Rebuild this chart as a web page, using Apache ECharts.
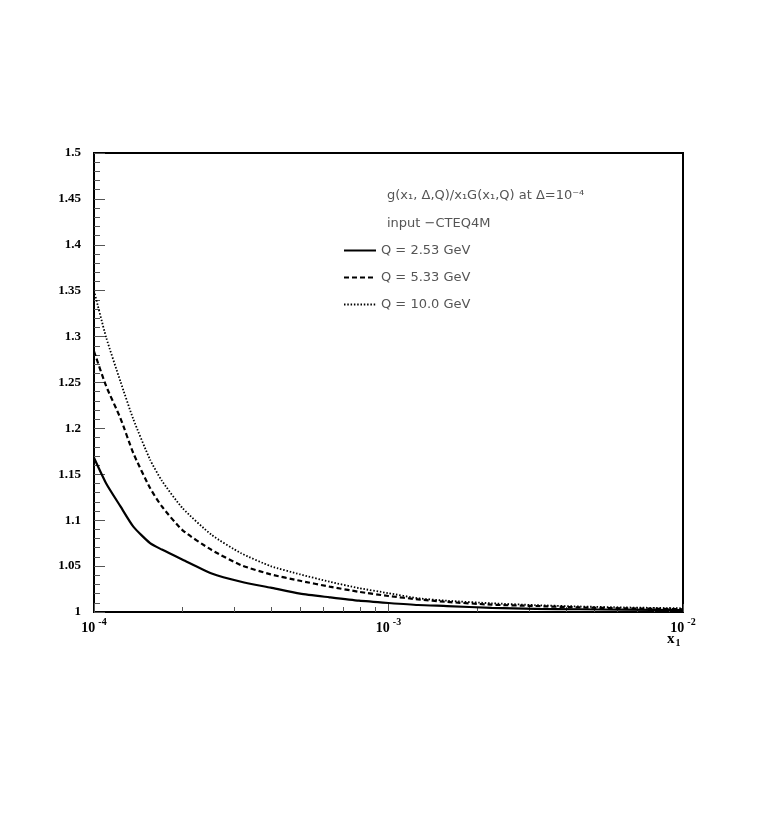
<!DOCTYPE html>
<html>
<head>
<meta charset="utf-8">
<style>html,body{margin:0;padding:0;background:#fff;}#c{width:763px;height:817px;}</style>
<script src="https://cdn.jsdelivr.net/npm/echarts@6/dist/echarts.min.js"></script>
</head>
<body>
<div id="c"></div>
<script>
// x1 values (log axis)
var xValues = [1.00e-4, 1.10e-4, 1.23e-4, 1.36e-4, 1.55e-4, 1.70e-4, 2.00e-4, 2.51e-4, 3.16e-4, 3.98e-4, 5.01e-4,
               6.31e-4, 7.94e-4, 1.00e-3, 1.26e-3, 1.58e-3, 2.24e-3, 3.16e-3, 4.47e-3, 6.31e-3, 1.00e-2];
// Q = 2.53 GeV
var q253 = [1.168, 1.140, 1.115, 1.093, 1.075, 1.068, 1.057, 1.042, 1.033, 1.0265, 1.020,
            1.016, 1.0123, 1.0098, 1.0076, 1.0065, 1.0045, 1.0035, 1.003, 1.0025, 1.002];
// Q = 5.33 GeV
var q533 = [1.284, 1.246, 1.211, 1.173, 1.135, 1.115, 1.089, 1.0675, 1.051, 1.041, 1.034,
            1.0276, 1.022, 1.0174, 1.0138, 1.011, 1.008, 1.0065, 1.005, 1.004, 1.003];
// Q = 10.0 GeV
var q100 = [1.350, 1.299, 1.251, 1.210, 1.166, 1.143, 1.113, 1.084, 1.064, 1.050, 1.041,
            1.033, 1.026, 1.0205, 1.015, 1.0123, 1.0095, 1.0075, 1.006, 1.005, 1.004];
var seriesNames = ['Q = 2.53 GeV', 'Q = 5.33 GeV', 'Q = 10.0 GeV'];
var minorXTicks = [2e-4, 3e-4, 4e-4, 5e-4, 6e-4, 7e-4, 8e-4, 9e-4,
                   2e-3, 3e-3, 4e-3, 5e-3, 6e-3, 7e-3, 8e-3, 9e-3];
var titleLine1 = 'g(x\u2081, \u0394,Q)/x\u2081G(x\u2081,Q) at \u0394=10\u207B\u2074';
var titleLine2 = 'input \u2212CTEQ4M';

function pairs(ys) { return xValues.map(function (x, i) { return [x, ys[i]]; }); }

var chart = echarts.init(document.getElementById('c'), null, {renderer: 'canvas'});
var serifBold = {fontFamily: 'Liberation Serif', fontWeight: 'bold', color: '#000'};
chart.setOption({
  animation: false,
  backgroundColor: '#fff',
  grid: {left: 94, top: 153, right: 80, bottom: 205, show: true, borderColor: '#000', borderWidth: 2, containLabel: false},
  legend: {
    orient: 'vertical', left: 338, top: 239, itemWidth: 32, itemHeight: 14, itemGap: 14,
    itemStyle: {opacity: 0},
    textStyle: {fontFamily: 'DejaVu Sans', fontSize: 13, color: '#555'},
    data: seriesNames
  },
  graphic: [
    {type: 'text', left: 387, top: 189, style: {text: titleLine1, font: '13px "DejaVu Sans"', fill: '#555'}},
    {type: 'text', left: 387, top: 217, style: {text: titleLine2, font: '13px "DejaVu Sans"', fill: '#555'}},
    {type: 'text', left: 667, top: 632, style: {
      text: '{x|x}{s|1}',
      rich: {x: {fontFamily: 'Liberation Serif', fontWeight: 'bold', fontSize: 15, fill: '#000'},
             s: {fontFamily: 'Liberation Serif', fontWeight: 'bold', fontSize: 10, fill: '#000', padding: [8, 0, 0, 1]}}
    }}
  ],
  xAxis: [{
    type: 'log', min: 1e-4, max: 1e-2, logBase: 10,
    axisLine: {lineStyle: {color: '#000', width: 2}},
    axisTick: {inside: true, length: 8, lineStyle: {color: '#555', width: 1}},
    splitLine: {show: false},
    axisLabel: {
      margin: 3,
      formatter: function (v) { return '{b|10}{s|' + Math.round(Math.log10(v)) + '}'; },
      rich: {
        b: {fontFamily: 'Liberation Serif', fontWeight: 'bold', fontSize: 14, color: '#000', padding: [6, 0, 0, 0]},
        s: {fontFamily: 'Liberation Serif', fontWeight: 'bold', fontSize: 10, color: '#000', padding: [0, 0, 6, 3]}
      }
    }
  }, {
    type: 'log', min: 1e-4, max: 1e-2, logBase: 10, position: 'bottom',
    axisLine: {show: false},
    axisTick: {inside: true, length: 5, customValues: minorXTicks, lineStyle: {color: '#555', width: 1}},
    axisLabel: {show: false},
    splitLine: {show: false}
  }],
  yAxis: {
    type: 'value', min: 1, max: 1.5, interval: 0.05,
    axisLine: {lineStyle: {color: '#000', width: 2}},
    axisTick: {inside: true, length: 11, lineStyle: {color: '#555', width: 1}},
    minorTick: {show: true, splitNumber: 5, length: 6, lineStyle: {color: '#555', width: 1}},
    splitLine: {show: false},
    axisLabel: Object.assign({margin: 13, fontSize: 13}, serifBold)
  },
  series: [
    {name: seriesNames[0], type: 'line', xAxisIndex: 0, showSymbol: false, symbol: 'none', smooth: 0.2,
     data: pairs(q253), lineStyle: {color: '#000', width: 2.2, type: 'solid'}, itemStyle: {color: '#000'}},
    {name: seriesNames[1], type: 'line', xAxisIndex: 0, showSymbol: false, symbol: 'none', smooth: 0.2,
     data: pairs(q533), lineStyle: {color: '#000', width: 2.2, type: [5, 3]}, itemStyle: {color: '#000'}},
    {name: seriesNames[2], type: 'line', xAxisIndex: 0, showSymbol: false, symbol: 'none', smooth: 0.2,
     data: pairs(q100), lineStyle: {color: '#000', width: 1.8, type: [1.5, 1.8]}, itemStyle: {color: '#000'}}
  ]
});
</script>
</body>
</html>
